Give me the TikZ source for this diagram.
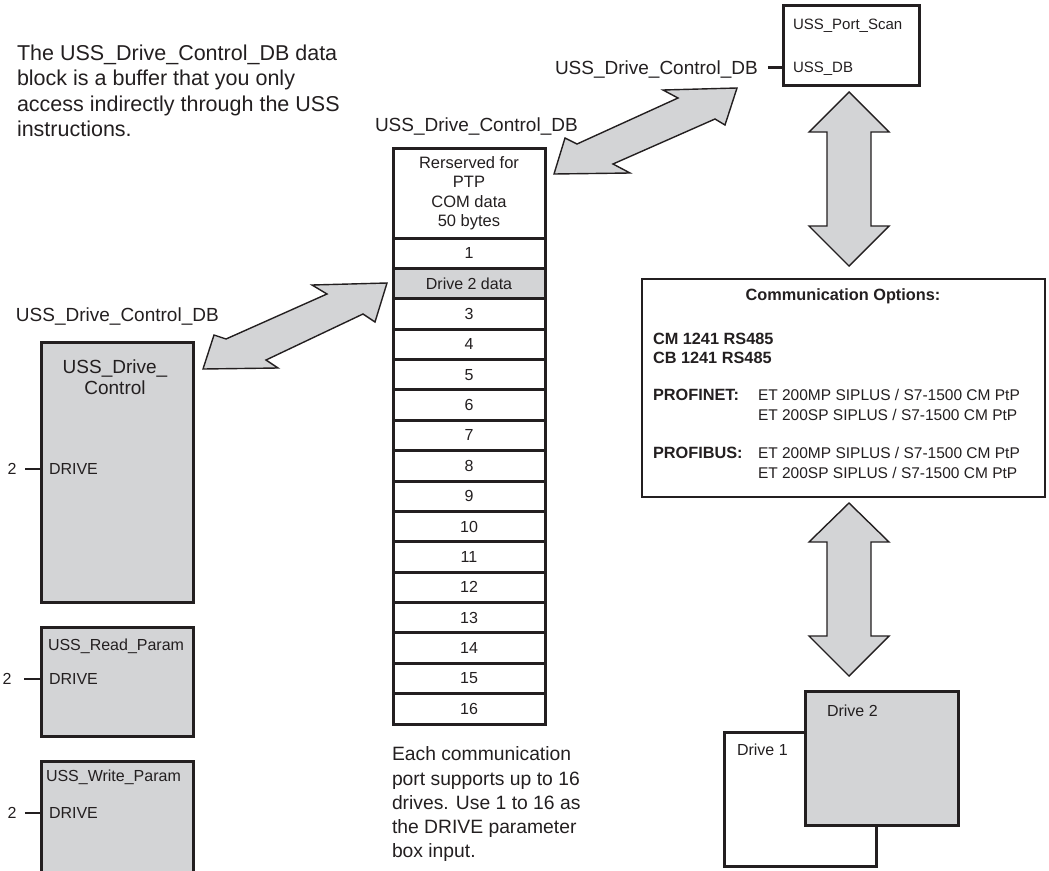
\documentclass[tikz,border=0pt]{standalone}
\usepackage{fontspec}
\setmainfont{Liberation Sans}
\definecolor{boxgray}{RGB}{211,212,214}
\definecolor{ink}{RGB}{35,31,32}
\tikzset{
  txt/.style={inner sep=0pt, outer sep=0pt, text=ink, anchor=west,
    font=\fontsize{#1}{#1}\selectfont, text height=0.716*#1pt, text depth=0pt},
  txtc/.style={txt=#1, anchor=center},
  btxt/.style={txt=#1, font=\fontsize{#1}{#1}\selectfont\bfseries},
  cell/.style={draw=ink, line width=3pt, minimum width=152pt, minimum height=30.375pt,
    inner sep=0pt, outer sep=0pt, anchor=north, text=ink, font=\fontsize{16}{16}\selectfont},
  blk/.style={draw=ink, fill=boxgray, line width=3pt, minimum width=152pt,
    inner sep=0pt, outer sep=0pt, anchor=north west},
  drvbox/.style={draw=ink, line width=3pt, inner sep=0pt, outer sep=0pt, anchor=north west},
  fatarrow/.style={fill=boxgray, draw=ink, line width=1.4pt, line join=miter},
  pinline/.style={draw=ink, line width=2.5pt},
}
\begin{document}
\begin{tikzpicture}[x=1pt,y=-1pt]
\useasboundingbox (0,0) rectangle (1049,870);

% ---------- big double arrows ----------
\draw[fatarrow] (554,174) -- (565,138) -- (577,144) -- (678,98) -- (663,90) -- (737,88)
  -- (725,125) -- (715,119) -- (613,164) -- (630,173) -- cycle;
\draw[fatarrow] (203,369) -- (214,335) -- (226,339) -- (327,294) -- (312,285) -- (387,283)
  -- (375,322) -- (363,314) -- (266,360) -- (278,368) -- cycle;
\draw[fatarrow] (849,92) -- (889,132) -- (871,132) -- (871,226) -- (889,226) -- (849,266)
  -- (809,226) -- (827,226) -- (827,132) -- (809,132) -- cycle;
\draw[fatarrow] (849,503) -- (889,542) -- (871,542) -- (871,636) -- (889,636) -- (849,676)
  -- (809,636) -- (827,636) -- (827,542) -- (809,542) -- cycle;

% ---------- top-left paragraph ----------
\node[txt=21.5] (p1) at (17,52.5) {The USS\_Drive\_Control\_DB data};
\node[txt=21.5] (p2) at (17,78) {block is a buffer that you only};
\node[txt=21.5] (p3) at (17,103.5) {access indirectly through the USS};
\node[txt=21.5] (p4) at (17,129) {instructions.};

% ---------- DB column ----------
\node[txt=19] (dblabel) at (375,125) {USS\_Drive\_Control\_DB};
\node[cell, minimum height=90pt, align=center, font=\fontsize{16.5}{19.5}\selectfont]
  (res) at (469,148) {Rerserved for\\PTP\\COM data\\50 bytes};
\foreach \i in {1,...,16}{
  \ifnum\i=2 \def\rowtext{Drive 2 data}\def\rowfill{boxgray}\else\edef\rowtext{\i}\def\rowfill{white}\fi
  \node[cell, fill=\rowfill] (r\i) at (469,{238+(\i-1)*30.375}) {\rowtext};
}

% ---------- bottom paragraph ----------
\node[txt=19.3] (b1) at (392,754) {Each communication};
\node[txt=19.3] (b2) at (392,778.2) {port supports up to 16};
\node[txt=19.3] (b3) at (392,802.4) {drives. Use 1 to 16 as};
\node[txt=19.3] (b4) at (392,826.6) {the DRIVE parameter};
\node[txt=19.3] (b5) at (392,850.8) {box input.};

% ---------- left instruction blocks ----------
\node[txt=19] (leftlabel) at (16,314.5) {USS\_Drive\_Control\_DB};
\node[blk, minimum height=260pt] (udc) at (41,342) {};
\node[txtc=19] (udct1) at (115,367) {USS\_Drive\_};
\node[txtc=19] (udct2) at (115,388) {Control};
\node[txt=16] (udcdrive) at (49,469) {DRIVE};
\node[txtc=16] (two1) at (12,469) {2};
\draw[pinline] ([xshift=9pt]two1.east) -- (two1 -| udc.west);

\node[blk, minimum height=109pt] (urp) at (41,627) {};
\node[txt=16] (urpt) at (48,645) {USS\_Read\_Param};
\node[txt=16] (urpdrive) at (49,679) {DRIVE};
\node[txtc=16] (two2) at (7,679) {2};
\draw[pinline] ([xshift=13pt]two2.east) -- (two2 -| urp.west);

\node[blk, minimum height=130pt] (uwp) at (41,761) {};
\node[txt=16] (uwpt) at (46,776) {USS\_Write\_Param};
\node[txt=16] (uwpdrive) at (49,813) {DRIVE};
\node[txtc=16] (two3) at (12,813) {2};
\draw[pinline] ([xshift=8.5pt]two3.east) -- (two3 -| uwp.west);

% ---------- USS_Port_Scan ----------
\node[drvbox, fill=white, minimum width=136pt, minimum height=80pt] (ps) at (783,5) {};
\node[txt=15] (pst) at (793,24) {USS\_Port\_Scan};
\node[txt=15] (psdb) at (793,67) {USS\_DB};
\node[txt=19] (rightlabel) at (555,67.5) {USS\_Drive\_Control\_DB};
\draw[pinline] ([xshift=10pt]rightlabel.east) -- (rightlabel -| ps.west);

% ---------- communication options ----------
\node[draw=ink, line width=2pt, fill=white, minimum width=403pt, minimum height=218pt,
  inner sep=0pt, outer sep=0pt, anchor=north west] (comm) at (642,279) {};
\node[btxt=16.3, anchor=center] (ct) at (843,295) {Communication Options:};
\node[btxt=16.3] (cm) at (653,339) {CM 1241 RS485};
\node[btxt=16.3] (cb) at (653,358) {CB 1241 RS485};
\node[btxt=16.3] (pn) at (653,395) {PROFINET:};
\node[txt=15.5] (pn1) at (758,395) {ET 200MP SIPLUS / S7-1500 CM PtP};
\node[txt=15.5] (pn2) at (758,415) {ET 200SP SIPLUS / S7-1500 CM PtP};
\node[btxt=16.3] (pb) at (653,453) {PROFIBUS:};
\node[txt=15.5] (pb1) at (758,453) {ET 200MP SIPLUS / S7-1500 CM PtP};
\node[txt=15.5] (pb2) at (758,473) {ET 200SP SIPLUS / S7-1500 CM PtP};

% ---------- drives ----------
\node[drvbox, fill=white, minimum width=152pt, minimum height=134pt] (d1) at (724,732) {};
\node[txt=16] (d1t) at (737,749.5) {Drive 1};
\node[drvbox, fill=boxgray, minimum width=153pt, minimum height=134pt] (d2) at (805,691) {};
\node[txt=16] (d2t) at (827,711) {Drive 2};
\end{tikzpicture}
\end{document}
